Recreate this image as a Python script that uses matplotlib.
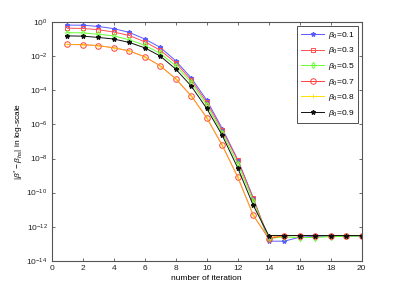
import matplotlib
matplotlib.use("Agg")
import matplotlib.pyplot as plt
from matplotlib.ticker import NullLocator

plt.rcParams['font.family'] = ['Liberation Sans', 'DejaVu Sans']
plt.rcParams['mathtext.fontset'] = 'custom'
plt.rcParams['mathtext.rm'] = 'Liberation Sans'
plt.rcParams['mathtext.it'] = 'Liberation Sans:italic'

iterations = list(range(1, 21))
labels = [r'$\beta_0$=0.1', r'$\beta_0$=0.3', r'$\beta_0$=0.5',
          r'$\beta_0$=0.7', r'$\beta_0$=0.8', r'$\beta_0$=0.9']

err_b01 = [0.69, 0.68, 0.575, 0.427, 0.257, 0.105, 3.4e-2, 5.5e-3, 5.4e-4, 2.7e-5,
           5.8e-7, 8.7e-9, 5.0e-11, 1.4e-13, 1.4e-13, 2.4e-13, 2.7e-13, 2.8e-13, 2.8e-13, 2.8e-13]
err_b03 = [0.45, 0.44, 0.37, 0.27, 0.17, 7.2e-2, 2.3e-2, 4.2e-3, 4.0e-4, 2.0e-5,
           4.5e-7, 7.9e-9, 4.5e-11, 2.2e-13, 3.0e-13, 3.0e-13, 3.0e-13, 3.0e-13, 3.0e-13, 3.0e-13]
err_b05 = [0.25, 0.24, 0.2, 0.16, 9.5e-2, 4.5e-2, 1.5e-2, 2.8e-3, 3.0e-4, 1.4e-5,
           3.2e-7, 5.0e-9, 3.2e-11, 2.0e-13, 2.5e-13, 2.3e-13, 2.3e-13, 2.6e-13, 2.7e-13, 2.8e-13]
err_b07 = [5.0e-2, 4.9e-2, 4.3e-2, 3.2e-2, 2.1e-2, 9.5e-3, 2.8e-3, 4.8e-4, 4.8e-5, 2.5e-6,
           6.0e-8, 8.3e-10, 4.7e-12, 2.0e-13, 3.0e-13, 3.0e-13, 3.0e-13, 3.0e-13, 3.0e-13, 3.0e-13]
err_b08 = [5.0e-2, 4.9e-2, 4.3e-2, 3.2e-2, 2.1e-2, 9.5e-3, 2.8e-3, 4.8e-4, 4.8e-5, 2.5e-6,
           6.0e-8, 8.3e-10, 4.7e-12, 2.3e-13, 3.0e-13, 3.0e-13, 3.0e-13, 3.0e-13, 3.0e-13, 3.0e-13]
err_b09 = [0.16, 0.155, 0.13, 0.105, 6.6e-2, 3.2e-2, 1.05e-2, 1.8e-3, 1.8e-4, 8.7e-6,
           2.3e-7, 2.8e-9, 1.8e-11, 3.0e-13, 3.0e-13, 3.0e-13, 3.0e-13, 3.0e-13, 3.0e-13, 3.0e-13]

xticks = list(range(0, 21, 2))
ytick_exps = list(range(-14, 1, 2))

fig = plt.figure(figsize=(3.99, 2.94), dpi=100)
ax = fig.add_axes([0.1296, 0.1133, 0.777, 0.8107])

lw = 0.7
ms = 3.2
ax.plot(iterations, err_b01, '-*', color='#5a5aff', lw=lw, ms=ms, label=labels[0])
ax.plot(iterations, err_b03, '-s', color='#ff5050', lw=lw, ms=ms, mfc='none', mew=0.7, label=labels[1])
ax.plot(iterations, err_b05, '-d', color='#66ff33', lw=lw, ms=ms, mfc='none', mew=0.7, label=labels[2])
ax.plot(iterations, err_b07, '-o', color='#ff4040', lw=lw, ms=ms + 0.8, mfc='none', mew=0.7, label=labels[3])
ax.plot(iterations, err_b08, '-+', color='#ffe000', lw=lw, ms=ms, mew=0.7, alpha=0.6, label=labels[4])
ax.plot(iterations, err_b09, '-*', color='#111111', lw=lw, ms=ms, label=labels[5])

ax.set_yscale('log')
ax.set_xlim(0, 20)
ax.set_ylim(1e-14, 1e0)
ax.set_xticks(xticks)
ax.set_yticks([10.0 ** e for e in ytick_exps])
ax.yaxis.set_minor_locator(NullLocator())
ax.tick_params(direction='in', length=2.5, width=0.5, labelsize=6, top=True, right=True,
               colors='#333333', labelcolor='#222222', pad=3)
for s in ax.spines.values():
    s.set_linewidth(0.8)
    s.set_color('#555555')

ax.set_xlabel('number of iteration', fontsize=6, labelpad=2)
ax.set_ylabel(r'$|\beta^{*}-\beta_{hs}|$ in log-scale', fontsize=6, labelpad=0)

leg = ax.legend(loc='upper right', fontsize=6, frameon=True, fancybox=False,
                edgecolor='black', borderpad=0.5, labelspacing=0.55, handlelength=2.8,
                handletextpad=0.4, borderaxespad=0.4)
leg.get_frame().set_linewidth(0.6)
for lh in leg.get_lines():
    lh.set_alpha(1.0)

fig.savefig('out.png', dpi=100)
